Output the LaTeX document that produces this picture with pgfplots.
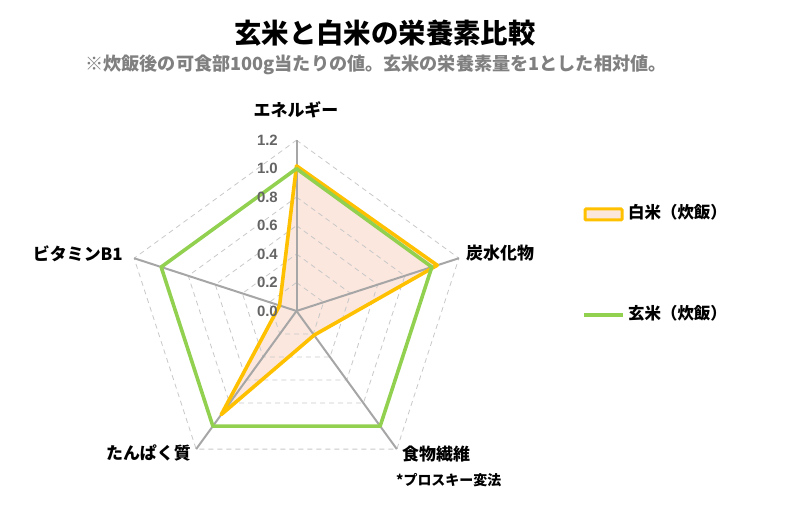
\documentclass[border=0pt]{standalone}
\usepackage{fontspec}
\setmainfont{Noto Sans CJK JP}
\newfontfamily\numfont{Liberation Sans}
\usepackage{pgfplots}
\pgfplotsset{compat=1.18}
\definecolor{orng}{RGB}{255,192,0}
\definecolor{grn}{RGB}{146,208,80}
\definecolor{pinkf}{RGB}{251,231,222}
\definecolor{spoke}{RGB}{166,166,166}
\definecolor{gridc}{RGB}{200,200,200}
\definecolor{tickc}{RGB}{100,100,100}
\definecolor{subc}{RGB}{128,128,128}
\begin{document}
\begin{tikzpicture}[x=1bp,y=1bp]
\path[use as bounding box] (0,0) rectangle (800,521);
\begin{axis}[at={(296.5bp,210bp)}, anchor=origin, x=142.3bp, y=142.3bp,
  hide axis, xmin=-1.3, xmax=1.3, ymin=-1.3, ymax=1.3, clip=false]
% white rice fill
\addplot[fill=pinkf, draw=none, data cs=polar] coordinates {(90,1.02) (18,1.04) (-54,0.21) (-126,0.9) (162,0.125) (90,1.02)};
% grid
\addplot[gridc, dash pattern=on 5bp off 4bp, line width=0.8bp, data cs=polar] coordinates {(90,0.2) (18,0.2) (-54,0.2) (-126,0.2) (162,0.2) (90,0.2)};
\addplot[gridc, dash pattern=on 5bp off 4bp, line width=0.8bp, data cs=polar] coordinates {(90,0.4) (18,0.4) (-54,0.4) (-126,0.4) (162,0.4) (90,0.4)};
\addplot[gridc, dash pattern=on 5bp off 4bp, line width=0.8bp, data cs=polar] coordinates {(90,0.6) (18,0.6) (-54,0.6) (-126,0.6) (162,0.6) (90,0.6)};
\addplot[gridc, dash pattern=on 5bp off 4bp, line width=0.8bp, data cs=polar] coordinates {(90,0.8) (18,0.8) (-54,0.8) (-126,0.8) (162,0.8) (90,0.8)};
\addplot[gridc, dash pattern=on 5bp off 4bp, line width=0.8bp, data cs=polar] coordinates {(90,1.0) (18,1.0) (-54,1.0) (-126,1.0) (162,1.0) (90,1.0)};
\addplot[gridc, dash pattern=on 5bp off 4bp, line width=0.8bp, data cs=polar] coordinates {(90,1.2) (18,1.2) (-54,1.2) (-126,1.2) (162,1.2) (90,1.2)};
% spokes
\addplot[spoke, line width=2bp, data cs=polar] coordinates {(90,0) (90,1.2)};
\addplot[spoke, line width=2bp, data cs=polar] coordinates {(18,0) (18,1.2)};
\addplot[spoke, line width=2bp, data cs=polar] coordinates {(-54,0) (-54,1.2)};
\addplot[spoke, line width=2bp, data cs=polar] coordinates {(-126,0) (-126,1.2)};
\addplot[spoke, line width=2bp, data cs=polar] coordinates {(162,0) (162,1.2)};
% white rice line
\addplot[orng, line width=3.6bp, line join=round, line cap=round, data cs=polar] coordinates {(90,1.02) (18,1.04) (-54,0.21) (-126,0.9) (162,0.125) (90,1.02)};
% brown rice line
\addplot[grn, line width=3.6bp, line join=round, line cap=round, data cs=polar] coordinates {(90,1) (18,1) (-54,1) (-126,1) (162,1) (90,1)};
% tick labels
\foreach \r in {0.0,0.2,0.4,0.6,0.8,1.0,1.2} {
  \edef\tmp{\noexpand\node[anchor=east, text=tickc, font=\noexpand\numfont\noexpand\bfseries\noexpand\fontsize{15}{17}\noexpand\selectfont, inner sep=0pt] at (axis cs:-0.13,\r) {\r};}
  \tmp
}
\end{axis}
% titles
\node[font=\fontsize{27.5}{30}\selectfont\bfseries, inner sep=0pt] at (385,488) {玄米と白米の栄養素比較};
\node[font=\fontsize{18.2}{20}\selectfont\bfseries, text=subc, inner sep=0pt] at (376,456) {※炊飯後の可食部100g当たりの値。玄米の栄養素量を1とした相対値。};
% category labels
\def\lf{\fontsize{17}{20}\selectfont\bfseries}
\node[font=\lf, inner sep=0pt] at (296,411) {エネルギー};
\node[font=\lf, inner sep=0pt, anchor=west] at (466,268) {炭水化物};
\node[font=\lf, inner sep=0pt, anchor=west] at (402,67) {食物繊維};
\node[font=\fontsize{14}{16}\selectfont\bfseries, inner sep=0pt, anchor=west] at (396,41) {*プロスキー変法};
\node[font=\lf, inner sep=0pt, anchor=east] at (191,68) {たんぱく質};
\node[font=\lf, inner sep=0pt, anchor=east] at (123,267) {ビタミンB1};
% legend
\draw[orng, line width=3bp, fill=pinkf, rounded corners=1bp] (585,301) rectangle (622,312);
\node[font=\fontsize{16.5}{19}\selectfont\bfseries, inner sep=0pt, anchor=west] at (628,309) {白米（炊飯）};
\draw[grn, line width=3.6bp] (584,206) -- (623,206);
\node[font=\fontsize{16.5}{19}\selectfont\bfseries, inner sep=0pt, anchor=west] at (628,208) {玄米（炊飯）};
\end{tikzpicture}
\end{document}
